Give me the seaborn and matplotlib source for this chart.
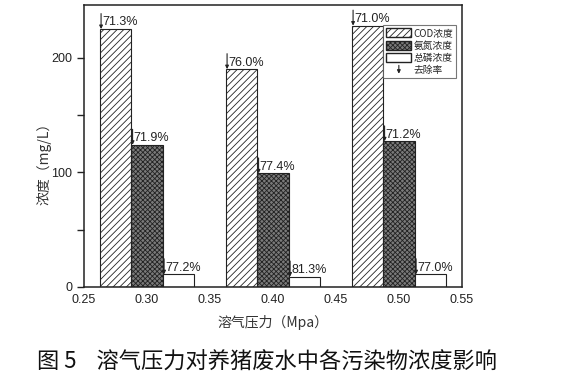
import matplotlib
matplotlib.use("Agg")
import matplotlib.pyplot as plt
import seaborn as sns
import pandas as pd
from matplotlib.patches import Patch, FancyArrowPatch
from matplotlib.lines import Line2D
from matplotlib.legend_handler import HandlerBase
from matplotlib.ticker import MultipleLocator

# ---- data ----
pressure = [0.30, 0.40, 0.50]
series = ["COD浓度", "氨氮浓度", "总磷浓度"]
cod = [225, 190, 228]
nh3n = [124, 99, 127]
tp = [11, 9, 11]
cod_rate = ["71.3%", "76.0%", "71.0%"]
nh3n_rate = ["71.9%", "77.4%", "71.2%"]
tp_rate = ["77.2%", "81.3%", "77.0%"]
xticks = [0.25, 0.30, 0.35, 0.40, 0.45, 0.50, 0.55]

sns.set_theme(style="ticks")
plt.rcParams["font.family"] = ["Liberation Sans", "Noto Sans CJK SC", "DejaVu Sans"]
plt.rcParams["hatch.linewidth"] = 0.6

rows = []
for vals, name in zip([cod, nh3n, tp], series):
    for p, v in zip(pressure, vals):
        rows.append({"pressure": p, "series": name, "value": v})
df = pd.DataFrame(rows)

fig = plt.figure(figsize=(5.78, 3.84), dpi=100)
ax = fig.add_axes([0.145, 0.253, 0.654, 0.734])

sns.barplot(data=df, x="pressure", y="value", hue="series", hue_order=series,
            native_scale=True, width=0.75, gap=0, dodge=True,
            palette=["white", "white", "white"], edgecolor="black",
            linewidth=0.8, legend=False, ax=ax, errorbar=None)

hatches = ["/////", "xxxxxxx", ""]
faces = ["white", "#7a7a7a", "white"]
bars = [p for p in ax.patches]
n = len(pressure)
for i, p in enumerate(bars):
    s = i // n
    p.set_hatch(hatches[s])
    p.set_facecolor(faces[s])
    p.set_edgecolor("#222222")

rates = [cod_rate, nh3n_rate, tp_rate]
for i, p in enumerate(bars):
    s, j = divmod(i, n)
    x0 = p.get_x()
    h = p.get_height()
    ax.annotate("", xy=(x0 + 0.0012, h), xytext=(x0 + 0.0012, h + 13.5),
                arrowprops=dict(arrowstyle="-|>", lw=0.8, color="#222222",
                                mutation_scale=5, shrinkA=0, shrinkB=0))
    ax.text(x0 + 0.0022, h + 0.5, rates[s][j], ha="left", va="bottom",
            fontsize=9, color="#222222",
            family=["Liberation Sans", "DejaVu Sans"])

ax.set_xlim(0.25, 0.55)
ax.set_ylim(0, 246)
ax.set_xticks(xticks)
ax.set_xticklabels([f"{t:.2f}" for t in xticks])
ax.yaxis.set_major_locator(MultipleLocator(100))
ax.yaxis.set_minor_locator(MultipleLocator(50))
ax.tick_params(axis="x", length=0, labelsize=9, pad=5, colors="#222222")
ax.tick_params(axis="y", which="major", direction="out", length=5, width=1,
               labelsize=9, colors="#222222")
ax.tick_params(axis="y", which="minor", direction="out", length=5, width=1)
for sp in ax.spines.values():
    sp.set_visible(True)
    sp.set_color("#222222")
    sp.set_linewidth(1.1)

ax.set_xlabel("溶气压力（Mpa）", fontsize=10, color="#333333",
              family=["Noto Sans CJK SC", "DejaVu Sans"])
ax.set_ylabel("浓度（mg/L）", fontsize=10, color="#333333",
              family=["Noto Sans CJK SC", "DejaVu Sans"])
ax.xaxis.set_label_coords(0.5, -0.1)
ax.yaxis.set_label_coords(-0.086, 0.45)


class ArrowHandler(HandlerBase):
    def create_artists(self, legend, orig_handle, xdescent, ydescent,
                       width, height, fontsize, trans):
        xc = width / 2 - xdescent
        a = FancyArrowPatch((xc, height * 1.25), (xc, -height * 0.35),
                            arrowstyle="-|>", mutation_scale=5, lw=0.8,
                            color="#222222", transform=trans)
        return [a]


rate_handle = Line2D([], [], label="去除率")
handles = [
    Patch(facecolor="white", edgecolor="#222222", hatch="/////", label="COD浓度"),
    Patch(facecolor="#7a7a7a", edgecolor="#222222", hatch="xxxxxxx", label="氨氮浓度"),
    Patch(facecolor="white", edgecolor="#222222", label="总磷浓度"),
    rate_handle,
]
leg = ax.legend(handles=handles, loc="upper right", bbox_to_anchor=(0.99, 0.935),
                fontsize=7, frameon=True, fancybox=False, edgecolor="#555555",
                handlelength=2.6, handleheight=1.0, labelspacing=0.25,
                handletextpad=0.2, borderpad=0.3, borderaxespad=0.2,
                handler_map={rate_handle: ArrowHandler()},
                prop={"family": ["Noto Sans CJK SC", "DejaVu Sans"], "size": 7})
leg.get_frame().set_linewidth(0.8)

fig.text(0.462, 0.057, "图 5    溶气压力对养猪废水中各污染物浓度影响", ha="center",
         va="center", fontsize=16, color="#111111",
         family=["Noto Sans CJK SC", "DejaVu Sans"])

fig.savefig("out.png", dpi=100, facecolor="white")
